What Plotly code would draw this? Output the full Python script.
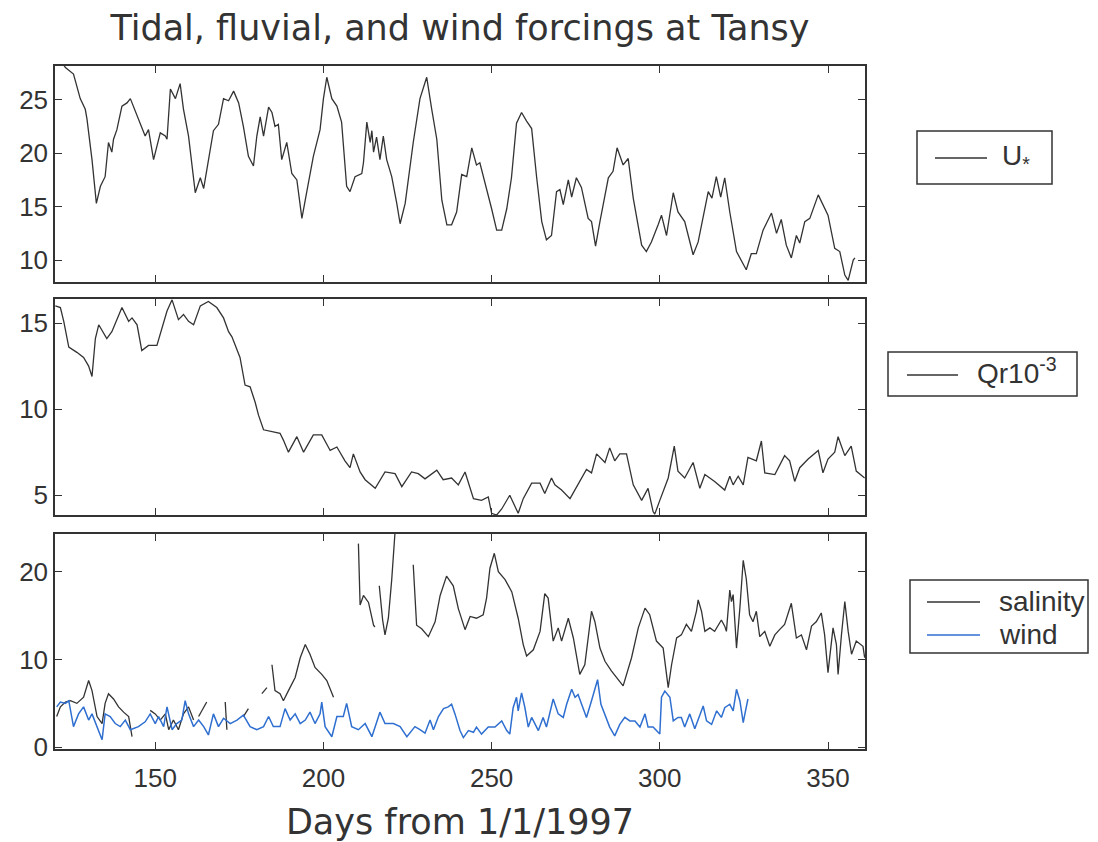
import plotly.graph_objects as go

# ---------------- data ----------------
u_days = [122.0, 123.3, 125.7, 127.7, 129.2, 129.7, 131.2, 132.5, 133.7, 135.1, 136.1, 137.1, 137.6, 138.6,
          140.1, 141.6, 142.6, 144.6, 147.0, 148.0, 149.5, 151.5, 153.0, 153.5, 154.5, 156.0, 157.4, 158.4,
          159.9, 161.9, 163.4, 164.4, 165.8, 167.3, 168.8, 170.3, 171.8, 173.3, 174.8, 176.2, 177.7, 179.2,
          180.2, 181.2, 182.2, 183.7, 184.7, 185.6, 186.6, 187.6, 189.1, 190.6, 192.1, 193.6, 195.0, 197.0,
          199.0, 200.0, 201.0, 202.5, 204.0, 205.4, 206.9, 207.9, 209.4, 211.4, 211.9, 212.9, 213.9, 214.4,
          214.9, 215.8, 216.8, 217.8, 218.8, 220.3, 221.8, 222.8, 224.3, 226.7, 228.7, 230.7, 232.2, 233.7,
          235.2, 236.7, 238.1, 239.6, 241.1, 242.6, 244.1, 245.5, 246.5, 248.5, 250.0, 251.5, 253.0, 254.5,
          255.9, 257.4, 258.9, 260.4, 261.9, 263.4, 264.9, 266.3, 267.8, 269.3, 270.3, 271.3, 272.8, 273.8,
          275.2, 276.7, 278.7, 279.7, 280.9, 282.2, 284.7, 286.1, 287.3, 289.1, 290.6, 292.1, 294.6, 296.0,
          297.5, 299.5, 300.5, 302.0, 304.0, 305.4, 307.4, 309.9, 311.4, 314.4, 315.5, 316.8, 318.1, 319.3,
          320.8, 322.8, 325.7, 327.2, 328.7, 330.7, 333.2, 334.7, 336.1, 337.6, 339.1, 340.6, 341.6, 343.1,
          344.6, 347.1, 348.5, 350.0, 352.0, 353.5, 355.0, 356.0, 357.5, 358.0]
u_star = [28.6, 28.0, 27.4, 25.1, 24.1, 23.2, 19.4, 15.3, 16.9, 17.8, 21.0, 20.1, 21.3, 22.2,
          24.4, 24.7, 25.1, 23.5, 21.6, 22.2, 19.4, 21.9, 21.6, 21.3, 26.0, 25.1, 26.5, 24.1,
          21.6, 16.3, 17.7, 16.7, 19.4, 22.1, 22.7, 25.1, 24.9, 25.8, 24.7, 22.5, 19.7, 18.8,
          21.6, 23.4, 21.6, 24.3, 23.8, 22.5, 22.7, 19.4, 21.0, 18.1, 17.5, 13.9, 16.3, 19.7,
          22.2, 25.1, 27.1, 25.1, 24.4, 22.9, 16.9, 16.4, 17.8, 18.1, 19.1, 22.9, 21.0, 22.1,
          20.1, 21.5, 19.4, 21.6, 19.4, 17.8, 15.3, 13.4, 15.3, 21.0, 25.1, 27.1, 24.1, 21.3,
          15.6, 13.3, 13.3, 14.5, 18.0, 17.8, 20.5, 18.9, 19.1, 16.7, 14.8, 12.8, 12.8, 14.8,
          17.7, 22.8, 23.8, 23.0, 22.3, 17.7, 13.6, 11.9, 12.3, 16.4, 16.6, 15.2, 17.5, 15.9,
          17.7, 16.8, 13.9, 13.6, 11.3, 13.6, 17.7, 18.3, 20.5, 18.9, 19.5, 15.8, 11.4, 10.8,
          11.7, 13.3, 14.2, 12.3, 16.3, 14.5, 13.6, 10.5, 11.7, 16.4, 15.8, 17.8, 15.9, 17.7,
          14.5, 10.8, 9.1, 10.6, 10.6, 12.8, 14.4, 12.5, 13.8, 11.4, 10.2, 12.3, 11.6, 13.6,
          13.9, 16.1, 15.2, 14.2, 11.1, 10.8, 8.6, 8.1, 10.0, 10.2]

q_days = [120.3, 121.8, 122.8, 124.3, 126.7, 128.7, 130.2, 131.2, 132.2, 133.2, 135.6, 137.1, 140.1, 142.1,
          143.1, 144.6, 146.0, 148.0, 150.5, 152.0, 153.5, 155.0, 156.9, 158.4, 159.9, 161.4, 163.4, 165.8,
          168.3, 170.3, 171.8, 172.8, 174.3, 175.2, 176.7, 178.2, 179.7, 180.7, 182.2, 184.7, 187.1, 188.1,
          189.6, 192.1, 194.1, 197.0, 199.5, 202.0, 204.0, 206.4, 207.9, 208.9, 210.9, 212.4, 215.4, 218.3,
          221.3, 223.3, 226.2, 228.2, 230.2, 233.7, 235.6, 238.1, 240.1, 242.1, 244.6, 247.0, 249.0, 250.0,
          251.5, 253.0, 255.4, 257.9, 259.4, 261.9, 264.4, 265.8, 267.8, 268.8, 270.8, 273.3, 275.7, 278.2,
          279.7, 281.2, 283.7, 285.1, 286.6, 288.1, 290.1, 292.1, 294.6, 296.5, 298.0, 298.5, 300.0, 302.5,
          304.3, 305.4, 307.4, 309.9, 311.9, 313.4, 316.3, 319.3, 320.8, 321.8, 323.3, 324.8, 326.2, 328.7,
          330.2, 331.2, 334.2, 337.1, 338.6, 340.1, 341.6, 344.1, 347.1, 348.5, 350.0, 352.0, 353.0, 355.0,
          356.9, 358.4, 360.9]
qr = [16.0, 15.9, 15.1, 13.6, 13.3, 13.0, 12.5, 11.9, 14.1, 14.9, 14.1, 14.5, 15.9, 15.1,
      15.3, 14.9, 13.4, 13.7, 13.7, 14.7, 15.7, 16.35, 15.2, 15.5, 15.1, 14.9, 16.0, 16.25,
      15.9, 15.3, 14.5, 14.2, 13.5, 13.0, 11.4, 11.3, 10.4, 9.65, 8.8, 8.7, 8.6, 8.2,
      7.5, 8.4, 7.5, 8.5, 8.5, 7.6, 7.8, 7.0, 6.6, 7.4, 6.35, 5.9, 5.4, 6.35,
      6.25, 5.5, 6.35, 6.25, 5.95, 6.45, 5.9, 6.0, 5.6, 6.35, 4.8, 4.7, 4.9, 3.95,
      3.85, 4.2, 5.0, 3.95, 4.8, 5.7, 5.7, 5.1, 6.0, 5.6, 5.3, 4.8, 5.6, 6.5,
      6.3, 7.4, 6.9, 7.75, 7.0, 7.4, 7.4, 5.6, 4.7, 5.4, 4.05, 3.9, 4.7, 6.0,
      7.85, 6.4, 6.0, 6.9, 5.4, 6.2, 5.8, 5.3, 6.1, 5.6, 6.1, 5.6, 7.2, 7.0,
      8.15, 6.3, 6.2, 7.3, 7.0, 5.8, 6.6, 7.1, 7.6, 6.3, 7.1, 7.5, 8.4, 7.3,
      7.85, 6.4, 6.0]

# salinity has gaps (None)
sal_days = [120.7, 121.8, 123.3, 124.8, 126.7, 128.7, 130.2, 131.2, 132.7, 134.2, 135.1, 136.1, 137.6, 139.1,
            140.6, 142.1, 143.1, None,
            148.5, 150.0, 151.5, 153.0, 154.0, 155.4, 156.9, 158.4, 159.9, 161.4, None,
            162.9, 164.1, 165.3, None,
            170.8, 171.3, None,
            176.2, 177.7, None,
            181.7, 183.2, None,
            184.7, 185.6, 187.1, 188.1, 189.6, 191.6, 193.1, 194.6, 196.0, 197.5, 199.5, 201.0, 203.0, None,
            210.4, 210.9, 211.9, 213.4, 214.9, 215.3, None,
            216.6, 217.6, 218.3, 219.3, 220.3, 221.3, None,
            226.7, 227.7, 229.2, 231.2, 233.2, 234.7, 236.6, 238.6, 240.1, 242.1, 243.6, 245.5, 247.5, 248.5,
            249.5, 250.8, 252.0, 254.0, 256.0, 257.9, 259.4, 260.4, 262.4, 264.4, 265.8, 266.8, 268.3, 269.8,
            270.8, 272.8, 274.3, 276.2, 277.7, 279.7, 280.7, 282.2, 283.7, 285.6, 289.1, 291.6, 293.6, 295.6,
            297.0, 299.0, 301.0, 302.5, 303.5, 305.0, 306.4, 307.9, 309.4, 310.9, 311.4, 312.4, 313.4, 314.9,
            316.3, 318.3, 319.3, 319.8, 320.8, 321.3, 321.8, 322.8, 323.8, 324.8, 325.7, 326.7, 327.7, 328.7,
            329.7, 331.2, 332.7, 334.2, 335.6, 337.1, 339.1, 340.6, 342.1, 343.6, 345.1, 346.5, 348.0, 349.0,
            350.0, 351.5, 352.5, 353.0, 354.0, 355.0, 356.0, 357.0, 358.4, 360.4, 360.9]
salinity = [3.5, 4.6, 5.15, 5.3, 5.0, 5.7, 7.6, 6.45, 3.5, 2.7, 5.0, 6.1, 5.5, 4.6,
            4.0, 3.5, 1.2, None,
            4.2, 3.8, 3.1, 3.8, 2.0, 3.1, 2.0, 3.8, 4.6, 3.1, None,
            3.5, 4.3, 5.15, None,
            5.15, 2.0, None,
            3.5, 4.4, None,
            6.1, 6.8, None,
            9.4, 6.45, 6.1, 5.3, 6.45, 7.95, 10.2, 11.7, 10.6, 9.1, 8.3, 7.6, 5.7, None,
            23.2, 16.2, 17.3, 16.5, 13.9, 13.7, None,
            18.4, 14.5, 12.8, 14.7, 19.1, 24.6, None,
            20.8, 13.9, 13.5, 12.6, 14.3, 17.3, 19.5, 18.4, 15.8, 13.4, 14.9, 14.7, 15.1, 17.0,
            20.4, 22.1, 20.0, 19.1, 17.7, 14.7, 11.7, 10.4, 11.1, 13.2, 17.5, 17.0, 12.1, 13.6,
            12.1, 14.7, 12.45, 8.3, 9.4, 15.5, 14.3, 11.3, 9.8, 8.7, 7.0, 10.2, 13.6, 15.85,
            15.1, 12.1, 11.3, 6.8, 9.4, 12.45, 12.8, 14.0, 13.2, 15.5, 16.8, 15.5, 13.2, 13.6,
            13.2, 14.5, 13.8, 13.2, 17.9, 16.6, 17.4, 11.3, 15.85, 21.3, 19.2, 15.1, 14.3, 15.5,
            12.6, 13.2, 11.5, 12.8, 13.4, 14.0, 16.4, 12.45, 12.8, 11.1, 13.8, 14.3, 15.3, 12.8,
            8.5, 13.6, 11.7, 8.3, 12.8, 16.6, 13.2, 10.6, 12.1, 11.5, 10.2]

wind_days = [120.7, 121.8, 123.3, 124.3, 125.7, 127.2, 128.7, 130.2, 131.2, 132.7, 134.2, 135.1, 136.6, 138.1,
             139.6, 141.1, 142.6, 145.0, 147.0, 148.5, 150.0, 151.0, 152.5, 153.5, 155.0, 156.4, 157.9, 158.9,
             159.9, 161.4, 162.9, 164.4, 165.8, 167.3, 168.8, 170.3, 172.3, 174.3, 176.2, 178.2, 180.2, 182.2,
             183.7, 185.1, 187.1, 188.6, 190.1, 191.6, 193.1, 194.6, 196.0, 197.5, 199.0, 199.5, 200.5, 202.5,
             204.0, 205.9, 206.9, 208.4, 210.4, 212.4, 214.4, 216.8, 218.3, 220.8, 222.8, 224.8, 227.2, 228.7,
             230.2, 231.7, 232.7, 234.2, 235.7, 237.1, 238.1, 239.1, 240.6, 241.6, 243.1, 244.6, 245.5, 247.0,
             249.0, 251.0, 253.0, 254.5, 255.4, 256.4, 257.4, 257.9, 258.9, 259.9, 260.9, 261.9, 262.9, 263.9,
             265.3, 266.3, 268.3, 269.8, 271.3, 272.3, 273.8, 274.8, 275.7, 276.7, 278.2, 279.7, 281.5, 282.5,
             283.7, 285.1, 286.6, 288.1, 289.6, 291.1, 292.6, 294.1, 295.6, 296.5, 298.0, 300.0, 300.5, 301.5,
             303.0, 304.0, 305.4, 306.4, 307.4, 308.9, 310.4, 311.9, 312.9, 313.9, 315.4, 316.9, 318.3, 319.3,
             320.8, 321.8, 322.8, 323.8, 324.8, 325.3, 326.2]
wind = [4.6, 5.15, 5.0, 5.3, 2.35, 3.8, 4.6, 3.1, 3.8, 2.35, 0.85, 3.8, 3.5, 2.7,
        2.35, 3.1, 2.0, 2.35, 2.9, 3.8, 2.7, 3.5, 2.35, 4.6, 2.0, 2.7, 3.1, 5.3,
        3.8, 2.35, 3.1, 2.35, 1.4, 3.8, 2.35, 3.3, 2.7, 3.1, 3.65, 2.35, 2.0, 2.35,
        3.5, 2.35, 2.35, 4.4, 3.1, 3.8, 2.7, 3.1, 4.0, 2.7, 3.8, 5.15, 2.35, 1.2,
        3.5, 3.5, 5.0, 2.35, 2.0, 2.7, 1.2, 4.0, 2.7, 2.7, 2.35, 1.2, 2.35, 2.0,
        1.6, 3.1, 2.0, 3.5, 4.4, 4.6, 4.9, 3.8, 1.9, 1.1, 1.9, 1.7, 2.3, 1.5,
        2.3, 2.3, 3.0, 1.9, 1.5, 4.5, 5.7, 4.15, 6.2, 4.5, 2.3, 3.4, 2.6, 1.9,
        3.4, 2.3, 5.5, 3.8, 3.4, 4.9, 6.6, 5.7, 6.0, 4.9, 3.4, 5.3, 7.7, 4.9,
        3.8, 2.3, 1.3, 2.6, 3.4, 3.0, 3.0, 2.3, 3.8, 2.3, 2.3, 1.5, 5.7, 6.4,
        5.7, 3.0, 3.4, 3.4, 2.3, 3.8, 2.1, 3.8, 4.7, 3.0, 2.6, 4.15, 3.4, 4.5,
        4.9, 4.15, 6.6, 5.3, 2.8, 3.8, 5.5]

x_ticks = [150, 200, 250, 300, 350]
u_ticks = [10, 15, 20, 25]
q_ticks = [5, 10, 15]
s_ticks = [0, 10, 20]

title_text = "Tidal, fluvial, and wind forcings at Tansy"
xlabel = "Days from 1/1/1997"
names = ["U<sub>*</sub>", "Qr10<sup>-3</sup>", "salinity", "wind"]

# ---------------- styling ----------------
INK = "#333333"
BLUE = "#2f6fd0"
W, H = 1098, 842
ML, MR, MT, MB = 55, 233, 66, 93
TICKFONT = dict(family="Liberation Sans, Arial, sans-serif", size=26, color=INK)
BIGFONT = dict(family="DejaVu Sans, sans-serif", size=35, color=INK)
LEGFONT = dict(family="Liberation Sans, Arial, sans-serif", size=28, color=INK)
colors = [INK, INK, INK, BLUE]

fig = go.Figure()
fig.add_trace(go.Scatter(x=u_days, y=u_star, mode="lines", name=names[0],
                         line=dict(color=colors[0], width=1.3), xaxis="x", yaxis="y"))
fig.add_trace(go.Scatter(x=q_days, y=qr, mode="lines", name=names[1],
                         line=dict(color=colors[1], width=1.3), xaxis="x2", yaxis="y2"))
fig.add_trace(go.Scatter(x=sal_days, y=salinity, mode="lines", name=names[2], connectgaps=False,
                         line=dict(color=colors[2], width=1.3), xaxis="x3", yaxis="y3"))
fig.add_trace(go.Scatter(x=wind_days, y=wind, mode="lines", name=names[3],
                         line=dict(color=colors[3], width=1.5), xaxis="x3", yaxis="y3"))

axis_common = dict(showline=True, mirror="allticks", linecolor=INK, linewidth=1.5,
                   ticks="inside", ticklen=7, tickwidth=1.3, tickcolor=INK,
                   showgrid=False, zeroline=False, tickfont=TICKFONT, automargin=False)
xr = [120.2, 361.0]

# ---- legend boxes (drawn in pixel positions converted to paper fractions) ----
pw, ph = W - ML - MR, H - MT - MB
def px(X):
    return (X - ML) / pw
def py(Y):
    return (H - MB - Y) / ph

# each legend: box (x0,y0,x1,y1), entries: (trace index, line y, text y)
legend_specs = [
    ((917, 131, 1052, 184), [(0, 158, 157)], (935, 987, 1000)),
    ((888, 352, 1077, 396), [(1, 375, 371)], (907, 958, 975)),
    ((910, 580, 1088, 653), [(2, 602, 601), (3, 635, 634)], (927, 980, 997)),
]
shapes, annotations = [], []
for (bx0, by0, bx1, by1), entries, (lx0, lx1, tx) in legend_specs:
    shapes.append(dict(type="rect", xref="paper", yref="paper",
                       x0=px(bx0), x1=px(bx1), y0=py(by1), y1=py(by0),
                       line=dict(color=INK, width=1.5), fillcolor="white", layer="above"))
    for idx, ly, ty in entries:
        shapes.append(dict(type="line", xref="paper", yref="paper",
                           x0=px(lx0), x1=px(lx1), y0=py(ly), y1=py(ly),
                           line=dict(color=colors[idx], width=1.5), layer="above"))
        annotations.append(dict(text=names[idx], xref="paper", yref="paper", x=px(tx), y=py(ty),
                                xanchor="left", yanchor="middle", showarrow=False, font=LEGFONT))

fig.update_layout(
    width=W, height=H,
    margin=dict(l=ML, r=MR, t=MT, b=MB),
    paper_bgcolor="white", plot_bgcolor="white",
    title=dict(text=title_text, x=0.5, xref="paper", xanchor="center",
               y=1 - 28 / H, yanchor="middle", yref="container", font=BIGFONT),
    showlegend=False,
    xaxis=dict(axis_common, domain=[0, 1], range=xr, anchor="y", tickvals=x_ticks, showticklabels=False),
    xaxis2=dict(axis_common, domain=[0, 1], range=xr, anchor="y2", tickvals=x_ticks, showticklabels=False),
    xaxis3=dict(axis_common, domain=[0, 1], range=xr, anchor="y3", tickvals=x_ticks,
                ticklabelstandoff=5,
                title=dict(text=xlabel, font=BIGFONT, standoff=20)),
    yaxis=dict(axis_common, domain=[0.6837, 1.0], range=[7.95, 28.15], anchor="x", tickvals=u_ticks,
               ticklabelstandoff=0),
    yaxis2=dict(axis_common, domain=[0.3426, 0.6589], range=[3.85, 16.4], anchor="x2", tickvals=q_ticks,
                ticklabelstandoff=0),
    yaxis3=dict(axis_common, domain=[0.0, 0.3148], range=[-0.2, 24.3], anchor="x3", tickvals=s_ticks,
                ticklabelstandoff=0),
    shapes=shapes,
    annotations=annotations,
)

fig.write_html("out.html")
